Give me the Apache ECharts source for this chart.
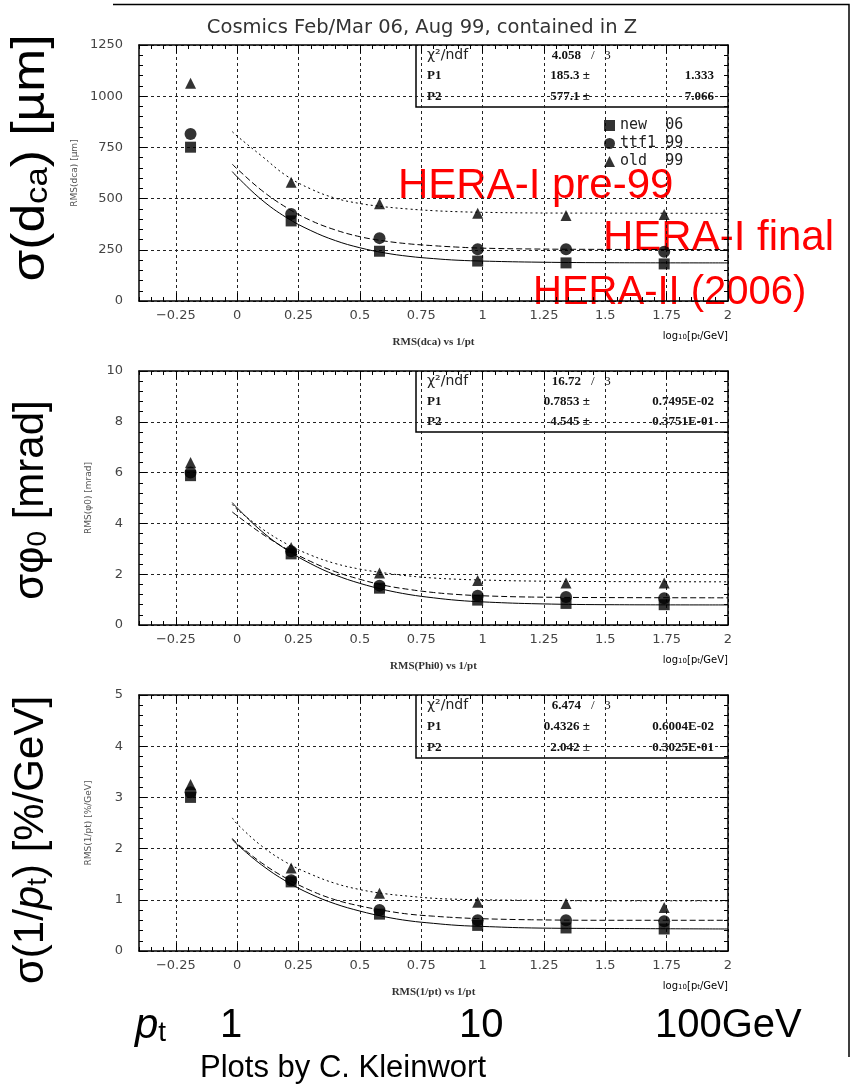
<!DOCTYPE html>
<html>
<head>
<meta charset="utf-8">
<script src="https://cdn.jsdelivr.net/npm/echarts@6/dist/echarts.min.js"></script>
<style>
html, body { margin: 0; padding: 0; background: #fff; }
#chartmain { width: 852px; height: 1090px; }
</style>
</head>
<body>
<div id="chartmain"></div>
<script>
// x positions of the measured points, log10(pt/GeV)
var ptX = [-0.19, 0.22, 0.58, 0.98, 1.34, 1.74];
// RMS(dca) [um]
var dcaNew = [751, 391, 243, 195, 186, 181];
var dcaTtf = [815, 425, 307, 253, 253, 240];
var dcaOld = [1063, 580, 475, 428, 417, 422];
// RMS(phi0) [mrad]
var phiNew = [5.88, 2.8, 1.45, 0.98, 0.85, 0.8];
var phiTtf = [6.0, 2.9, 1.55, 1.15, 1.1, 1.05];
var phiOld = [6.4, 3.05, 2.05, 1.75, 1.65, 1.65];
// RMS(1/pt) [%/GeV]
var invNew = [3.0, 1.35, 0.72, 0.5, 0.45, 0.43];
var invTtf = [3.1, 1.38, 0.8, 0.6, 0.6, 0.58];
var invOld = [3.25, 1.62, 1.13, 0.95, 0.93, 0.85];

// fit curves
var fitX = [-0.02, 0, 0.1, 0.2, 0.3, 0.4, 0.5, 0.6, 0.7, 0.8, 0.9, 1.0, 1.2, 1.5, 2.0];
var dcaFitNew = [632, 606, 494, 408, 344, 295, 260, 235, 218, 207, 199, 195, 190, 187, 186];
var dcaFitTtf = [668, 645, 540, 457, 393, 347, 314, 293, 279, 270, 263, 258, 254, 252, 251];
var dcaFitOld = [827, 805, 708, 612, 547, 502, 476, 460, 449, 441, 436, 433, 430, 429, 428];
var phiFitNew = [4.82, 4.61, 3.69, 2.97, 2.41, 1.97, 1.64, 1.39, 1.2, 1.07, 0.97, 0.91, 0.84, 0.8, 0.79];
var phiFitTtf = [4.45, 4.3, 3.6, 3.0, 2.5, 2.1, 1.8, 1.56, 1.4, 1.28, 1.2, 1.15, 1.1, 1.08, 1.07];
var phiFitOld = [4.75, 4.55, 3.8, 3.2, 2.75, 2.42, 2.2, 2.05, 1.93, 1.85, 1.8, 1.77, 1.73, 1.71, 1.7];
var invFitNew = [2.18, 2.08, 1.68, 1.36, 1.11, 0.92, 0.78, 0.67, 0.59, 0.54, 0.5, 0.48, 0.45, 0.44, 0.43];
var invFitTtf = [2.2, 2.1, 1.72, 1.42, 1.18, 1.0, 0.88, 0.79, 0.72, 0.68, 0.65, 0.63, 0.61, 0.6, 0.6];
var invFitOld = [2.6, 2.48, 2.05, 1.73, 1.5, 1.32, 1.2, 1.12, 1.07, 1.03, 1.01, 1.0, 0.99, 0.98, 0.98];

// axis ticks
var xTicks = [-0.25, 0, 0.25, 0.5, 0.75, 1, 1.25, 1.5, 1.75, 2];
var yMax = [1250, 10, 5];
var yStep = [250, 2, 1];
var captions = ['RMS(dca) vs 1/pt', 'RMS(Phi0) vs 1/pt', 'RMS(1/pt) vs 1/pt'];
var yNames = ['RMS(dca) [µm]', 'RMS(φ0) [mrad]', 'RMS(1/pt) [%/GeV]'];
var statChi = ['4.058', '16.72', '6.474'];
var statNdf = '/   3';
var statP1 = [['185.3 ±', '1.333'], ['0.7853 ±', '0.7495E-02'], ['0.4326 ±', '0.6004E-02']];
var statP2 = [['577.1 ±', '7.066'], ['4.545 ±', '0.3751E-01'], ['2.042 ±', '0.3025E-01']];
var legendNames = ['new 06', 'ttf1 99', 'old 99'];

var gridTops = [45, 371, 695];
var gridH = [256, 254, 256];
var boxBottoms = [107, 432, 758];

function pairs(xs, ys) {
    return xs.map(function (x, i) { return [x, ys[i]]; });
}

var grids = [], xAxes = [], yAxes = [], series = [], graphics = [];

for (var g = 0; g < 3; g++) {
    grids.push({ left: 139, top: gridTops[g], width: 589, height: gridH[g] });

    // bottom main axis
    xAxes.push({
        type: 'value', gridIndex: g, min: -0.4, max: 2, position: 'bottom',
        name: captions[g], nameLocation: 'middle', nameGap: 36,
        nameTextStyle: { fontFamily: 'Liberation Serif', fontWeight: 'bold', fontSize: 11, color: '#333' },
        axisLine: { onZero: false, lineStyle: { color: '#000', width: 1.5 } },
        axisTick: { inside: true, length: 8, customValues: xTicks, lineStyle: { color: '#000' } },
        axisLabel: {
            customValues: xTicks, margin: 8, color: '#444', fontSize: 13, fontFamily: 'DejaVu Sans',
            formatter: function (v) { return String(v).replace('-', '−'); }
        },
        splitLine: { show: true, lineStyle: { color: '#222', type: [3, 3], width: 1 } }
    });
    // bottom minor ticks
    xAxes.push({
        type: 'value', gridIndex: g, min: -0.4, max: 2, interval: 0.05, position: 'bottom',
        axisLine: { show: false, onZero: false },
        axisTick: { inside: true, length: 4, lineStyle: { color: '#000' } },
        axisLabel: { show: false }, splitLine: { show: false }
    });
    // top axes
    xAxes.push({
        type: 'value', gridIndex: g, min: -0.4, max: 2, position: 'top',
        axisLine: { onZero: false, lineStyle: { color: '#000', width: 1.5 } },
        axisTick: { inside: true, length: 8, customValues: xTicks, lineStyle: { color: '#000' } },
        axisLabel: { show: false }, splitLine: { show: false }
    });
    xAxes.push({
        type: 'value', gridIndex: g, min: -0.4, max: 2, interval: 0.05, position: 'top',
        axisLine: { show: false, onZero: false },
        axisTick: { inside: true, length: 4, lineStyle: { color: '#000' } },
        axisLabel: { show: false }, splitLine: { show: false }
    });

    yAxes.push({
        type: 'value', gridIndex: g, min: 0, max: yMax[g], interval: yStep[g], position: 'left',
        name: yNames[g], nameLocation: 'middle', nameGap: 46, nameRotate: 90,
        nameTextStyle: { fontSize: 9, color: '#555', fontFamily: 'DejaVu Sans' },
        axisLine: { show: true, onZero: false, lineStyle: { color: '#000', width: 1.5 } },
        axisTick: { inside: true, length: 8, lineStyle: { color: '#000' } },
        minorTick: { show: true, splitNumber: 5, length: 4, lineStyle: { color: '#000' } },
        axisLabel: { margin: 16, color: '#444', fontSize: 13, fontFamily: 'DejaVu Sans',
            formatter: function (v) { return String(v); } },
        splitLine: { show: true, lineStyle: { color: '#222', type: [3, 3], width: 1 } }
    });
    yAxes.push({
        type: 'value', gridIndex: g, min: 0, max: yMax[g], interval: yStep[g], position: 'right',
        axisLine: { show: true, onZero: false, lineStyle: { color: '#000', width: 1.5 } },
        axisTick: { inside: true, length: 8, lineStyle: { color: '#000' } },
        minorTick: { show: true, splitNumber: 5, length: 4, lineStyle: { color: '#000' } },
        axisLabel: { show: false }, splitLine: { show: false }
    });
}

var pointSets = [[dcaOld, dcaTtf, dcaNew], [phiOld, phiTtf, phiNew], [invOld, invTtf, invNew]];
var fitSets = [[dcaFitOld, dcaFitTtf, dcaFitNew], [phiFitOld, phiFitTtf, phiFitNew], [invFitOld, invFitTtf, invFitNew]];
var names = ['old 99', 'ttf1 99', 'new 06'];
var symbols = ['triangle', 'circle', 'rect'];
var sizes = [11, 12, 11];
var lineTypes = [[2, 3], [6, 3], 'solid'];

for (var g = 0; g < 3; g++) {
    for (var k = 0; k < 3; k++) {
        series.push({
            type: 'line', xAxisIndex: g * 4, yAxisIndex: g * 2,
            data: pairs(fitX, fitSets[g][k]), showSymbol: false, smooth: 0.4,
            lineStyle: { color: '#000', width: 1, type: lineTypes[k] }, z: 2, silent: true
        });
    }
    for (var k = 0; k < 3; k++) {
        series.push({
            type: 'scatter', name: names[k], xAxisIndex: g * 4, yAxisIndex: g * 2,
            data: pairs(ptX, pointSets[g][k]), symbol: symbols[k], symbolSize: sizes[k],
            itemStyle: { color: '#000' }, z: 3
        });
    }
}

// outer frame
graphics.push({ type: 'polyline', shape: { points: [[113, 4.5], [849, 4.5], [849, 1057]] },
    style: { stroke: '#000', lineWidth: 1.5, fill: null } });

// stat boxes
var statFont = 'bold 13px "Liberation Serif"';
for (var g = 0; g < 3; g++) {
    var t = gridTops[g], b = boxBottoms[g];
    var h = (b - t) / 3;
    graphics.push({ type: 'polyline', shape: { points: [[416, t], [416, b], [729, b]] },
        style: { stroke: '#000', lineWidth: 1.5, fill: null } });
    graphics.push({ type: 'text', x: 427, y: t + h * 0.5, style: { text: 'χ²/ndf', font: '14px "DejaVu Sans"', fill: '#222', verticalAlign: 'middle' } });
    graphics.push({ type: 'text', x: 581, y: t + h * 0.5, style: { text: statChi[g], font: statFont, fill: '#111', align: 'right', verticalAlign: 'middle' } });
    graphics.push({ type: 'text', x: 591, y: t + h * 0.5, style: { text: statNdf, font: '13px "Liberation Serif"', fill: '#111', verticalAlign: 'middle' } });
    graphics.push({ type: 'text', x: 427, y: t + h * 1.5, style: { text: 'P1', font: statFont, fill: '#111', verticalAlign: 'middle' } });
    graphics.push({ type: 'text', x: 590, y: t + h * 1.5, style: { text: statP1[g][0], font: statFont, fill: '#111', align: 'right', verticalAlign: 'middle' } });
    graphics.push({ type: 'text', x: 714, y: t + h * 1.5, style: { text: statP1[g][1], font: statFont, fill: '#111', align: 'right', verticalAlign: 'middle' } });
    graphics.push({ type: 'text', x: 427, y: t + h * 2.5, style: { text: 'P2', font: statFont, fill: '#111', verticalAlign: 'middle' } });
    graphics.push({ type: 'text', x: 590, y: t + h * 2.5, style: { text: statP2[g][0], font: statFont, fill: '#111', align: 'right', verticalAlign: 'middle' } });
    graphics.push({ type: 'text', x: 714, y: t + h * 2.5, style: { text: statP2[g][1], font: statFont, fill: '#111', align: 'right', verticalAlign: 'middle' } });
    // log10 axis caption
    graphics.push({ type: 'text', x: 728, y: gridTops[g] + gridH[g] + 35, style: {
        text: '{n|log}{s|10}{n|[p}{s|t}{n|/GeV]}', align: 'right', verticalAlign: 'middle',
        rich: { n: { fontSize: 10, fontFamily: 'DejaVu Sans', color: '#333' },
                s: { fontSize: 7, fontFamily: 'DejaVu Sans', color: '#333', verticalAlign: 'bottom' } } } });
}

// title
graphics.push({ type: 'text', x: 422, y: 28, style: { text: 'Cosmics Feb/Mar 06, Aug 99, contained in Z',
    font: '19.5px "DejaVu Sans"', fill: '#333', align: 'center', verticalAlign: 'middle' } });

// big rotated axis titles
function bigRich(size) {
    return {
        m: { fontSize: size, fontFamily: 'Liberation Sans', color: '#000' },
        i: { fontSize: size, fontFamily: 'Liberation Sans', fontStyle: 'italic', color: '#000' },
        s: { fontSize: Math.round(size * 0.67), fontFamily: 'Liberation Sans', color: '#000',
             verticalAlign: 'bottom', lineHeight: Math.round(size * 0.52) }
    };
}
var bigTitles = ['{m|σ(d}{s|ca}{m|) [µm]}', '{m|σφ}{s|0}{m| [mrad]}', '{m|σ(1/}{i|p}{s|t}{m|) [%/GeV]}'];
var bigY = [158, 500, 840];
var bigSize = [46, 42, 42];
var bigStretch = [1.12, 1, 1];
for (var g = 0; g < 3; g++) {
    graphics.push({ type: 'text', x: 31, y: bigY[g], rotation: Math.PI / 2, scaleX: bigStretch[g],
        style: { text: bigTitles[g], rich: bigRich(bigSize[g]), align: 'center', verticalAlign: 'middle' } });
}

// red annotations
graphics.push({ type: 'text', x: 398, y: 186, style: { text: 'HERA-I pre-99', font: '42px "Liberation Sans"', fill: '#ff0000', verticalAlign: 'middle' } });
graphics.push({ type: 'text', x: 603, y: 238, style: { text: 'HERA-I final', font: '42px "Liberation Sans"', fill: '#ff0000', verticalAlign: 'middle' } });
graphics.push({ type: 'text', x: 533, y: 293, style: { text: 'HERA-II (2006)', font: '40px "Liberation Sans"', fill: '#ff0000', verticalAlign: 'middle' } });

// bottom pt scale
graphics.push({ type: 'text', x: 135, y: 1026, style: { text: '{i|p}{s|t}', rich: bigRich(42), verticalAlign: 'middle' } });
graphics.push({ type: 'text', x: 220, y: 1026, style: { text: '1', font: '40px "Liberation Sans"', fill: '#000', verticalAlign: 'middle' } });
graphics.push({ type: 'text', x: 459, y: 1026, style: { text: '10', font: '40px "Liberation Sans"', fill: '#000', verticalAlign: 'middle' } });
graphics.push({ type: 'text', x: 655, y: 1026, style: { text: '100GeV', font: '40px "Liberation Sans"', fill: '#000', verticalAlign: 'middle' } });
graphics.push({ type: 'text', x: 200, y: 1068, style: { text: 'Plots by C. Kleinwort', font: '31px "Liberation Sans"', fill: '#000', verticalAlign: 'middle' } });

var option = {
    animation: false,
    backgroundColor: '#fff',
    grid: grids,
    xAxis: xAxes,
    yAxis: yAxes,
    legend: {
        data: legendNames,
        orient: 'vertical', left: 604, top: 118, padding: 0,
        itemWidth: 11, itemHeight: 11, itemGap: 3,
        textStyle: { fontSize: 15, fontFamily: 'DejaVu Sans Mono', color: '#222', padding: [0, 0, 0, 0] },
        formatter: function (name) {
            return { 'new 06': 'new  06', 'ttf1 99': 'ttf1 99', 'old 99': 'old  99' }[name];
        }
    },
    series: series,
    graphic: graphics
};

var myChart = echarts.init(document.getElementById('chartmain'));
myChart.setOption(option);
</script>
</body>
</html>
